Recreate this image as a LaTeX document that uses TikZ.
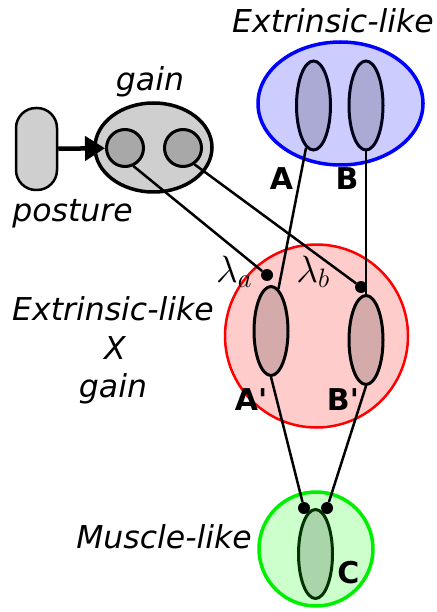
\documentclass[tikz,border=0pt]{standalone}
\usepackage{fix-cm}
\usepackage{fontspec}
\setmainfont{DejaVu Sans}
\newfontfamily\tagfont{DejaVu Sans}
\usetikzlibrary{shapes.geometric,arrows.meta}

\definecolor{grayfill}{HTML}{CFCFCF}
\definecolor{graycore}{HTML}{A8A8A8}
\definecolor{bluefill}{HTML}{CCCCFF}
\definecolor{bluecore}{HTML}{AAAAD4}
\definecolor{redfill}{HTML}{FFCCCC}
\definecolor{redcore}{HTML}{D4AAAA}
\definecolor{greenfill}{HTML}{CCFFCC}
\definecolor{greencore}{HTML}{AAD4AA}
\definecolor{greenline}{HTML}{00EE00}
\definecolor{darkgreen}{HTML}{003300}

\tikzset{
  lbl/.style={font=\fontsize{31.5}{36}\selectfont\itshape, inner sep=0pt, anchor=base},
  tag/.style={font=\tagfont\fontsize{30}{34}\selectfont\bfseries, inner sep=0pt, anchor=base},
  core/.style={ellipse, draw, line width=3pt, inner sep=0pt, minimum width=34pt, minimum height=89pt},
  dot/.style={circle, fill=black, inner sep=0pt, minimum size=12pt},
  wire/.style={line width=2.5pt},
}

\begin{document}
\begin{tikzpicture}[x=1pt, y=-1pt]
\useasboundingbox (0,0) rectangle (436,612);

% gain and posture
\node (posture) at (36.5, 149) [minimum width=41pt, minimum height=82pt, rounded corners=20pt, inner sep=0pt, draw, line width=2.5pt, fill=grayfill] {};
\node (gain) at (153.5, 147.5) [ellipse, minimum width=117pt, minimum height=89pt, inner sep=0pt, draw, line width=3.5pt, fill=grayfill] {};
\node (gl) at (125, 148) [circle, minimum size=37pt, inner sep=0pt, draw, line width=3pt, fill=graycore] {};
\node (gr) at (183, 148) [circle, minimum size=37pt, inner sep=0pt, draw, line width=3pt, fill=graycore] {};
\node (gaintxt) at (150, 91) [lbl] {gain};
\node (posturetxt) at (72.5, 222) [lbl] {posture};
\draw [line width=4.5pt, -{Triangle[length=20pt, width=24pt]}] (posture) -- (gl);

% extrinsic-like
\node (ext) at (340.5, 103.5) [ellipse, minimum width=165pt, minimum height=123pt, inner sep=0pt, draw=blue, line width=3.5pt, fill=bluefill] {};
\node (A) at (313.5, 105.5) [core, draw=black!90!blue, fill=bluecore] {};
\node (B) at (366, 105.5) [core, draw=black!90!blue, fill=bluecore] {};
\node (exttxt) at (333, 33) [lbl] {Extrinsic-like};
\node (Atxt) at (281.5, 190) [tag] {A};
\node (Btxt) at (347, 190) [tag] {B};

% extrinsic-like x gain
\node (mix) at (316.5, 336) [circle, minimum size=183pt, inner sep=0pt, draw=red, line width=2.5pt, fill=redfill] {};
\node (Ap) at (271, 331) [core, fill=redcore] {};
\node (Bp) at (366, 340) [core, fill=redcore] {};
\node (la) at (267, 275) [dot] {};
\node (lb) at (361, 287) [dot] {};
\node (latxt) at (234, 282) [inner sep=0pt, anchor=base, font=\fontsize{38}{44}\selectfont] {$\lambda_a$};
\node (lbtxt) at (313, 282) [inner sep=0pt, anchor=base, font=\fontsize{38}{44}\selectfont] {$\lambda_b$};
\node (Aptxt) at (251, 410) [tag] {A'};
\node (Bptxt) at (343, 410) [tag] {B'};
\node (mixtxt1) at (113, 320) [lbl] {Extrinsic-like};
\node (mixtxt2) at (115, 359) [lbl] {X};
\node (mixtxt3) at (113, 397) [lbl] {gain};

% muscle-like
\node (mus) at (316, 549) [circle, minimum size=114pt, inner sep=0pt, draw=greenline, line width=3.5pt, fill=greenfill] {};
\node (C) at (315.5, 554) [core, draw=darkgreen, fill=greencore] {};
\node (ca) at (304, 508) [dot] {};
\node (cb) at (327, 508) [dot] {};
\node (Ctxt) at (348.5, 583) [tag] {C};
\node (mustxt) at (164, 548) [lbl] {Muscle-like};

% connections
\draw [wire] (gl.-65) -- (la);
\draw [wire] (gr.-55) -- (lb);
\draw [wire] (A.-100) -- (Ap.80);
\draw [wire] (B.south) -- (Bp.north);
\draw [wire] (Ap.south) -- (ca);
\draw [wire] (Bp.south) -- (cb);
\end{tikzpicture}
\end{document}
